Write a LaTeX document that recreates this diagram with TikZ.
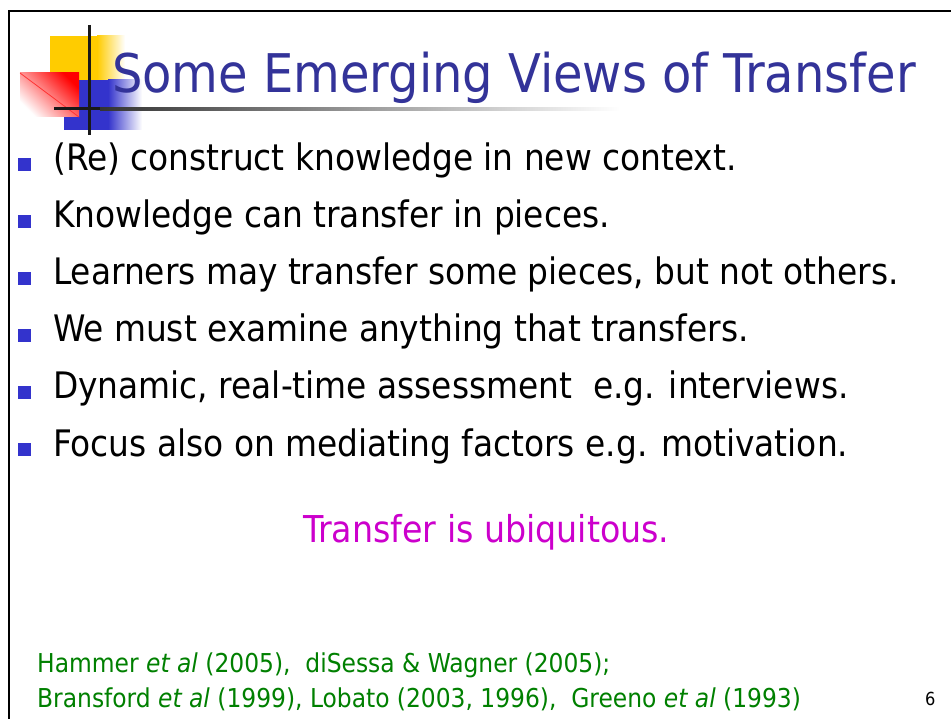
\documentclass[tikz,border=0pt]{standalone}
\usepackage{fontspec}
\setmainfont{DejaVu Sans Condensed}
\usetikzlibrary{calc}
\definecolor{titleblue}{RGB}{51,51,153}
\definecolor{bulletblue}{RGB}{51,51,204}
\definecolor{decoyellow}{RGB}{255,204,0}
\definecolor{magentatext}{RGB}{204,0,204}
\definecolor{refgreen}{RGB}{0,128,0}
\tikzset{
  bullettext/.style={anchor=base west, inner sep=0pt, font=\fontsize{36.5}{44}\selectfont},
  bulletsq/.style={fill=bulletblue, draw=none},
  reftext/.style={anchor=base west, inner sep=0pt, text=refgreen, font=\fontsize{26}{32}\selectfont},
}
\begin{document}
\begin{tikzpicture}[x=1pt,y=-1pt]
\useasboundingbox (0,0) rectangle (951,719);
\fill[white] (0,0) rectangle (951,719);
% frame
\draw[line width=2.5pt, black] (9,719) -- (9,11) -- (951,11);
% decoration
\fill[decoyellow] (50,36) rectangle (97,80);
\shade[left color=decoyellow, right color=white] (97,36) rectangle (125,80);
\fill[bulletblue] (64,80) rectangle (108,130);
\shade[left color=bulletblue, right color=white] (108,80) rectangle (142,130);
\shade[top color=red, bottom color=white, shading angle=-45] (20,73) rectangle (79,117);
\draw[red!80, line width=0.8pt] (20,73) -- (79,117);
\draw[line width=3pt, black!90] (89,25) -- (89,135);
\fill[black!90] (54,107.5) rectangle (100,110.5);
\shade[left color=black!80, right color=white] (100,107.5) rectangle (620,110.5);
% title
\node[anchor=base west, inner sep=0pt, text=titleblue, font=\fontsize{53.3}{60}\selectfont] (title) at (112,93) {Some Emerging Views of Transfer};
% bullets
\foreach \y/\t [count=\i] in {171/{(Re) construct knowledge in new context.},
  228/{Knowledge can transfer in pieces.},
  285/{Learners may transfer some pieces, but not others.},
  342/{We must examine anything that transfers.},
  399/{Dynamic, real-time assessment\ \ e.g. interviews.},
  456/{Focus also on mediating factors e.g. motivation.}}{
  \fill[bulletsq] (18,\y-13) rectangle (31,\y);
  \node[bullettext] (b\i) at (53,\y) {\t};
}
\node[anchor=base west, inner sep=0pt, text=magentatext, font=\fontsize{37}{44}\selectfont] (ubiq) at (303,542) {Transfer is ubiquitous.};
\node[reftext] (ref1) at (37,672) {Hammer \textit{et al} (2005),\ \ diSessa \& Wagner (2005);};
\node[reftext] (ref2) at (37,707) {Bransford \textit{et al} (1999), Lobato (2003, 1996),\ \ Greeno \textit{et al} (1993)};
\node[anchor=base west, inner sep=0pt, font=\fontsize{18}{22}\selectfont] (pnum) at (925,705) {6};
\end{tikzpicture}
\end{document}
